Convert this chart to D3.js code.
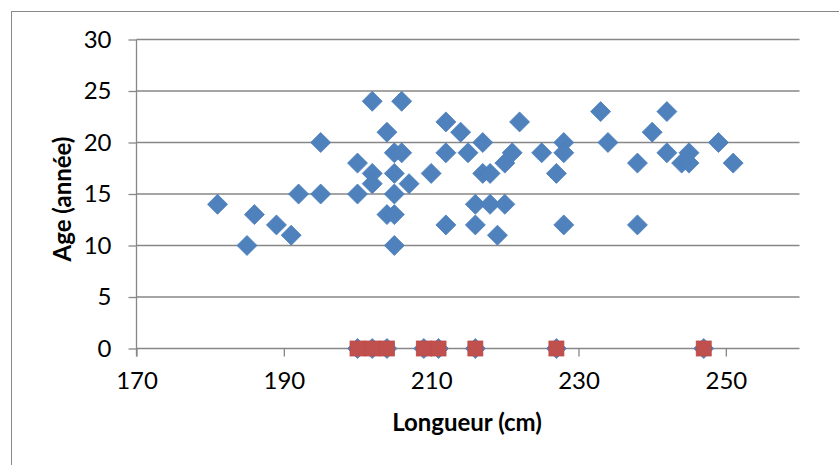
<!DOCTYPE html>
<html>
<head>
<meta charset="utf-8">
<script src="https://cdn.jsdelivr.net/npm/d3@7"></script>
<style>
html,body{margin:0;padding:0;background:#fff;}
svg{display:block;}
text{font-family:Lato,"Open Sans",sans-serif;fill:#000;}
</style>
</head>
<body>
<svg id="chart" width="839" height="465"></svg>
<script>
// Blue series: Longueur (cm) and Age (année)
const longueur = [181,185,186,189,191,192,195,195,
  200,200,202,202,202,204,204,205,205,205,205,205,206,206,207,
  210,212,212,212,214,215,216,216,217,217,218,218,219,220,220,221,222,
  225,227,228,228,228,
  233,234,238,238,240,242,242,244,245,245,249,251,
  200,202,204,209,211,216,227,247];
const age = [14,10,13,12,11,15,15,20,
  18,15,24,17,16,21,13,19,17,15,13,10,24,19,16,
  17,22,19,12,21,19,14,12,20,17,17,14,11,18,14,19,22,
  19,17,20,19,12,
  23,20,18,12,21,23,19,18,19,18,20,18,
  0,0,0,0,0,0,0,0];
// Red series (age unknown, plotted at 0)
const longueurInconnu = [200,202,204,209,211,216,227,247];
const ageInconnu = [0,0,0,0,0,0,0,0];
const xTicks = [170,190,210,230,250];
const yTicks = [0,5,10,15,20,25,30];

const svg = d3.select("#chart");
const margin = {left:136.5, right:799.5, top:39.5, bottom:348.5};
const x = d3.scaleLinear().domain([170,260]).range([margin.left, margin.right]);
const y = d3.scaleLinear().domain([0,30]).range([margin.bottom, margin.top]);

// outer frame
svg.append("rect").attr("x",11.5).attr("y",11.5).attr("width",860).attr("height",480)
  .attr("fill","none").attr("stroke","#888").attr("stroke-width",1);

const gridColor = "#878787";
// horizontal gridlines
svg.append("g").selectAll("line").data(yTicks).join("line")
  .attr("x1", margin.left).attr("x2", margin.right)
  .attr("y1", d=>y(d)).attr("y2", d=>y(d))
  .attr("stroke", gridColor).attr("stroke-width",1.3);

// y axis
const yAxis = svg.append("g").attr("transform",`translate(${margin.left},0)`)
  .call(d3.axisLeft(y).tickValues(yTicks).tickSize(8).tickPadding(17).tickFormat(d3.format("d")));
yAxis.select(".domain").attr("stroke",gridColor).attr("stroke-width",1.3)
  .attr("d", `M0,${margin.top}V${margin.bottom + 8}`);
yAxis.selectAll(".tick line").attr("stroke",gridColor).attr("stroke-width",1.3);
yAxis.selectAll(".tick text").style("font-size","24px").style("font-family","Lato,sans-serif").attr("fill","#000");

// x axis
const xAxis = svg.append("g").attr("transform",`translate(0,${margin.bottom})`)
  .call(d3.axisBottom(x).tickValues(xTicks).tickSize(8).tickPadding(15).tickFormat(d3.format("d")));
xAxis.select(".domain").remove();
xAxis.selectAll(".tick line").attr("stroke",gridColor).attr("stroke-width",1.3);
xAxis.selectAll(".tick text").style("font-size","24px").style("font-family","Lato,sans-serif").attr("fill","#000");

// points
const pts = longueur.map((v,i)=>({x:v, y:age[i]}));
const r = 10;
svg.append("g").selectAll("path").data(pts).join("path")
  .attr("d", d=>`M${x(d.x)},${y(d.y)-r}L${x(d.x)+r},${y(d.y)}L${x(d.x)},${y(d.y)+r}L${x(d.x)-r},${y(d.y)}Z`)
  .attr("fill","#4F81BD").attr("stroke","#4A7EBB").attr("stroke-width",0.8);

const pts2 = longueurInconnu.map((v,i)=>({x:v, y:ageInconnu[i]}));
const s = 7.5;
svg.append("g").selectAll("rect").data(pts2).join("rect")
  .attr("x", d=>x(d.x)-s).attr("y", d=>y(d.y)-s).attr("width",2*s).attr("height",2*s)
  .attr("fill","#C0504D").attr("stroke","#BE4B48").attr("stroke-width",0.8);

// axis titles
svg.append("text").attr("x", 467).attr("y", 431).attr("text-anchor","middle")
  .style("font-size","24px").style("font-weight","bold").text("Longueur (cm)");
svg.append("text").attr("transform","translate(71,199) rotate(-90)").attr("text-anchor","middle")
  .style("font-size","24px").style("font-weight","bold").text("Age (année)");
</script>
</body>
</html>
